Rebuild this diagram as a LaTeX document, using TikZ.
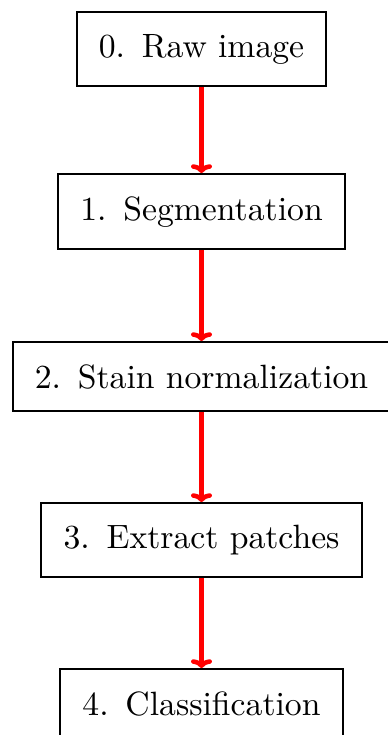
\documentclass[tikz,border=0pt]{standalone}
\usetikzlibrary{arrows.meta}
\begin{document}
\begin{tikzpicture}[x=0.29674pt,y=-0.29674pt,
  stepbox/.style={draw=black,line width=0.6pt,inner sep=6.6pt,anchor=north,fill=white},
  flow/.style={draw=red,line width=1.35pt,-{To[length=2.6pt,width=6.2pt]}}]
\useasboundingbox (0,0) rectangle (387,735);
\node[stepbox] (s0) at (201.5,11) {0.\enspace Raw image};
\node[stepbox] (s1) at (201.5,173) {1.\enspace Segmentation};
\node[stepbox] (s2) at (201.5,341) {2.\enspace Stain normalization};
\node[stepbox] (s3) at (201.5,502) {3.\enspace Extract patches};
\node[stepbox] (s4) at (201.5,668) {4.\enspace Classification};
\draw[flow] (s0.south) -- (s1.north);
\draw[flow] (s1.south) -- (s2.north);
\draw[flow] (s2.south) -- (s3.north);
\draw[flow] (s3.south) -- (s4.north);
\end{tikzpicture}
\end{document}
